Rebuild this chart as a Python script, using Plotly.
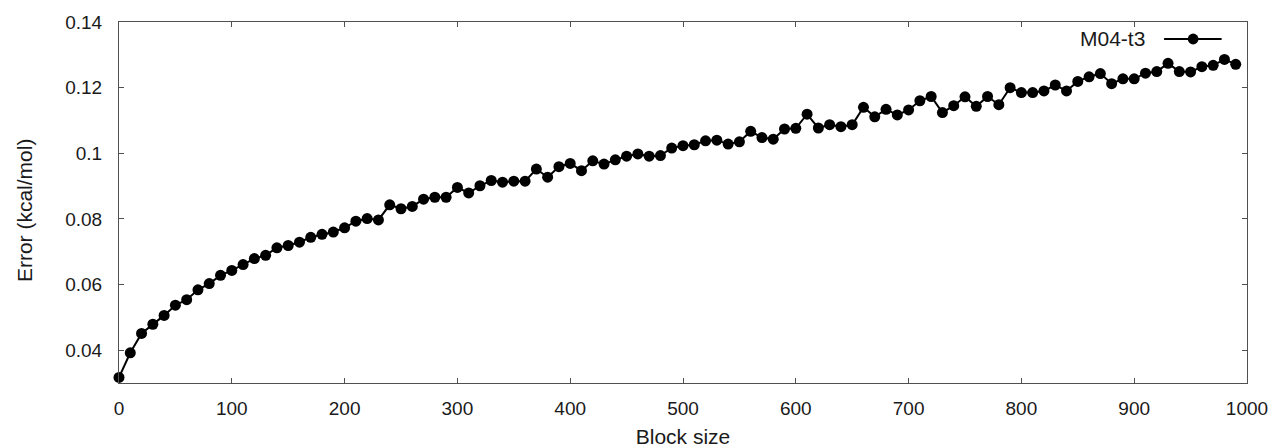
import plotly.graph_objects as go

# Block sizes sampled every 10 steps
block_size = list(range(0, 1000, 10))

# Block-averaged error estimate for M04-t3 (kcal/mol)
error_m04_t3 = [
    0.0317, 0.0392, 0.0451, 0.0479, 0.0506, 0.0537, 0.0554, 0.0584, 0.0603, 0.0628,
    0.0643, 0.0661, 0.0679, 0.0689, 0.0712, 0.0719, 0.0729, 0.0744, 0.0753, 0.0760,
    0.0773, 0.0793, 0.0801, 0.0797, 0.0843, 0.0831, 0.0838, 0.0860, 0.0866, 0.0866,
    0.0896, 0.0879, 0.0901, 0.0917, 0.0912, 0.0915, 0.0915, 0.0952, 0.0927, 0.0959,
    0.0969, 0.0947, 0.0977, 0.0967, 0.0980, 0.0991, 0.0998, 0.0991, 0.0993, 0.1016,
    0.1023, 0.1026, 0.1038, 0.1040, 0.1028, 0.1035, 0.1067, 0.1048, 0.1043, 0.1074,
    0.1076, 0.1119, 0.1077, 0.1087, 0.1081, 0.1087, 0.1140, 0.1111, 0.1134, 0.1117,
    0.1132, 0.1160, 0.1173, 0.1124, 0.1145, 0.1172, 0.1143, 0.1173, 0.1148, 0.1200,
    0.1185, 0.1185, 0.1190, 0.1208, 0.1190, 0.1219, 0.1233, 0.1243, 0.1212, 0.1227,
    0.1227, 0.1244, 0.1249, 0.1274, 0.1249, 0.1248, 0.1264, 0.1268, 0.1286, 0.1271,
]

series_name = "M04-t3"
x_title = "Block size"
y_title = "Error (kcal/mol)"
x_ticks = [0, 100, 200, 300, 400, 500, 600, 700, 800, 900, 1000]
y_ticks = [0.04, 0.06, 0.08, 0.1, 0.12, 0.14]
y_tick_text = ["0.04", "0.06", "0.08", "0.1", "0.12", "0.14"]

FONT = "Liberation Sans, Arial, sans-serif"
TEXT_COLOR = "#1a1a1a"
AXIS_COLOR = "#505050"
TICK_SIZE = 19
LABEL_SIZE = 21

fig = go.Figure()
fig.add_trace(go.Scatter(
    x=block_size,
    y=error_m04_t3,
    mode="lines+markers",
    name=series_name,
    line=dict(color="black", width=2),
    marker=dict(color="black", size=11, symbol="circle"),
    cliponaxis=False,
    showlegend=False,
))

axis_common = dict(
    showline=True,
    linecolor=AXIS_COLOR,
    linewidth=1,
    mirror="ticks",
    ticks="inside",
    ticklen=5,
    tickcolor=AXIS_COLOR,
    tickwidth=1,
    showgrid=False,
    zeroline=False,
    automargin=False,
    tickfont=dict(family=FONT, size=TICK_SIZE, color=TEXT_COLOR),
)

fig.update_xaxes(
    range=[0, 1000],
    tickvals=x_ticks,
    title=dict(text=x_title, font=dict(family=FONT, size=LABEL_SIZE, color=TEXT_COLOR), standoff=11),
    ticklabelstandoff=8,
    **axis_common,
)
fig.update_yaxes(
    range=[0.03, 0.14],
    tickvals=y_ticks,
    ticktext=y_tick_text,
    ticklabelstandoff=12,
    **axis_common,
)

# Vertical axis label, set slightly below the plot's mid-height
fig.add_annotation(
    xref="paper", yref="paper", x=-0.0842, y=0.479,
    text=y_title, textangle=-90, showarrow=False,
    xanchor="center", yanchor="middle",
    font=dict(family=FONT, size=LABEL_SIZE, color=TEXT_COLOR),
)

# Key in the top-right corner: label followed by a line-and-point sample
fig.add_annotation(
    xref="paper", yref="paper", x=0.9115, y=0.953,
    text=series_name, showarrow=False, xanchor="right", yanchor="middle",
    font=dict(family=FONT, size=LABEL_SIZE, color=TEXT_COLOR),
)
fig.add_shape(
    type="line", xref="paper", yref="paper",
    x0=0.9265, x1=0.9775, y0=0.953, y1=0.953,
    line=dict(color="black", width=2),
)
fig.add_shape(
    type="circle", xref="paper", yref="paper",
    x0=0.9475, x1=0.9570, y0=0.938, y1=0.968,
    fillcolor="black", line=dict(color="black", width=0),
)

fig.update_layout(
    width=1277,
    height=448,
    margin=dict(l=119, r=30, t=22, b=65),
    plot_bgcolor="white",
    paper_bgcolor="white",
    font=dict(family=FONT, size=TICK_SIZE),
)

fig.write_html("out.html")
